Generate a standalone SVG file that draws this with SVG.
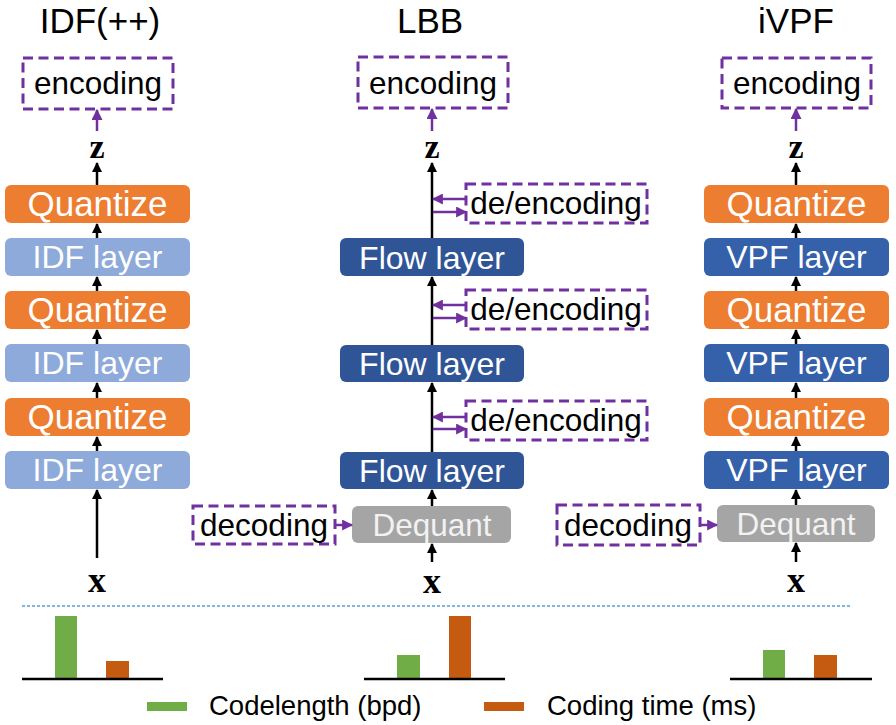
<svg xmlns="http://www.w3.org/2000/svg" width="896" height="725" viewBox="0 0 896 725">
<style>
.t{font-family:"Liberation Sans",Arial,sans-serif;text-anchor:middle}
.title{font-size:35px;fill:#000}
.q{fill:#ED7D31}.idf{fill:#8EAADB}.flow{fill:#2F5597}.vpf{fill:#3560AA}.deq{fill:#A5A5A5}
.bt{font-size:32px;fill:#fff}
.qt{font-size:35px;fill:#fff}
.dq{font-size:31.5px;fill:#F2F2F2}
.dash{fill:#fff;stroke:#7030A0;stroke-width:3;stroke-dasharray:10 5.5}
.dt{font-size:31.5px;fill:#000}
.var{font-family:"Liberation Serif","Times New Roman",serif;font-weight:bold;text-anchor:middle;fill:#000}
.ba{stroke:#000;stroke-width:2.5;fill:none;marker-end:url(#ah)}
.pa{stroke:#7030A0;stroke-width:2.5;fill:none;marker-end:url(#ph)}
.leg{font-family:"Liberation Sans",Arial,sans-serif;font-size:27.5px;fill:#000}
</style>
<defs>
<marker id="ah" markerUnits="userSpaceOnUse" markerWidth="10" markerHeight="10" viewBox="0 0 10 10" refX="9" refY="5" orient="auto">
<path d="M0,0 L10,5 L0,10 z" fill="#000"/>
</marker>
<marker id="ph" markerUnits="userSpaceOnUse" markerWidth="11" markerHeight="11" viewBox="0 0 10 10" refX="9" refY="5" orient="auto">
<path d="M0,0 L10,5 L0,10 z" fill="#7030A0"/>
</marker>
</defs>
<rect width="896" height="725" fill="#fff"/>

<!-- titles -->
<text class="t title" x="100" y="33">IDF(++)</text>
<text class="t title" x="430" y="33">LBB</text>
<text class="t title" x="796" y="33">iVPF</text>

<!-- IDF column -->
<g id="idf-encoding"><rect class="dash" x="23" y="58" width="150" height="51"/><text class="t dt" x="98" y="94">encoding</text></g>
<text class="var" x="97" y="158" font-size="34">z</text>
<g id="idf-q1"><rect class="q" x="5" y="185" width="185" height="38" rx="6"/><text class="t qt" x="97.5" y="216">Quantize</text></g>
<g id="idf-l1"><rect class="idf" x="5" y="238" width="185" height="38" rx="6"/><text class="t bt" x="97.5" y="268">IDF layer</text></g>
<g id="idf-q2"><rect class="q" x="5" y="291" width="185" height="38" rx="6"/><text class="t qt" x="97.5" y="322">Quantize</text></g>
<g id="idf-l2"><rect class="idf" x="5" y="344" width="185" height="38" rx="6"/><text class="t bt" x="97.5" y="374">IDF layer</text></g>
<g id="idf-q3"><rect class="q" x="5" y="398" width="185" height="38" rx="6"/><text class="t qt" x="97.5" y="429">Quantize</text></g>
<g id="idf-l3"><rect class="idf" x="5" y="451" width="185" height="38" rx="6"/><text class="t bt" x="97.5" y="481">IDF layer</text></g>
<text class="var" x="97" y="592" font-size="36">x</text>

<!-- LBB column -->
<g id="lbb-encoding"><rect class="dash" x="358" y="57" width="150" height="51"/><text class="t dt" x="433" y="94">encoding</text></g>
<text class="var" x="432" y="158" font-size="34">z</text>
<g id="lbb-de1"><rect class="dash" x="466" y="184" width="181" height="39"/><text class="t dt" x="556" y="214">de/encoding</text></g>
<g id="lbb-f1"><rect class="flow" x="340" y="238" width="184" height="38" rx="6"/><text class="t bt" x="432" y="269">Flow layer</text></g>
<g id="lbb-de2"><rect class="dash" x="466" y="290" width="181" height="39"/><text class="t dt" x="556" y="320">de/encoding</text></g>
<g id="lbb-f2"><rect class="flow" x="340" y="345" width="184" height="37" rx="6"/><text class="t bt" x="432" y="375">Flow layer</text></g>
<g id="lbb-de3"><rect class="dash" x="466" y="401" width="181" height="39"/><text class="t dt" x="556" y="431">de/encoding</text></g>
<g id="lbb-f3"><rect class="flow" x="340" y="452" width="184" height="37" rx="6"/><text class="t bt" x="432" y="482">Flow layer</text></g>
<g id="lbb-decoding"><rect class="dash" x="193" y="506" width="142" height="38"/><text class="t dt" x="264" y="536">decoding</text></g>
<g id="lbb-deq"><rect class="deq" x="352" y="506" width="159" height="37" rx="6"/><text class="t dq" x="432" y="536">Dequant</text></g>
<text class="var" x="432" y="593" font-size="36">x</text>

<!-- iVPF column -->
<g id="ivpf-encoding"><rect class="dash" x="722" y="58" width="149" height="50"/><text class="t dt" x="797" y="94">encoding</text></g>
<text class="var" x="796" y="158" font-size="34">z</text>
<g id="ivpf-q1"><rect class="q" x="704" y="185" width="185" height="38" rx="6"/><text class="t qt" x="796.5" y="216">Quantize</text></g>
<g id="ivpf-l1"><rect class="vpf" x="704" y="238" width="185" height="38" rx="6"/><text class="t bt" x="796.5" y="268">VPF layer</text></g>
<g id="ivpf-q2"><rect class="q" x="704" y="291" width="185" height="38" rx="6"/><text class="t qt" x="796.5" y="322">Quantize</text></g>
<g id="ivpf-l2"><rect class="vpf" x="704" y="344" width="185" height="38" rx="6"/><text class="t bt" x="796.5" y="374">VPF layer</text></g>
<g id="ivpf-q3"><rect class="q" x="704" y="398" width="185" height="38" rx="6"/><text class="t qt" x="796.5" y="429">Quantize</text></g>
<g id="ivpf-l3"><rect class="vpf" x="704" y="451" width="185" height="38" rx="6"/><text class="t bt" x="796.5" y="481">VPF layer</text></g>
<g id="ivpf-decoding"><rect class="dash" x="557" y="505" width="143" height="40"/><text class="t dt" x="628" y="536">decoding</text></g>
<g id="ivpf-deq"><rect class="deq" x="717" y="505" width="158" height="37" rx="6"/><text class="t dq" x="796" y="535">Dequant</text></g>
<text class="var" x="796" y="592" font-size="36">x</text>

<!-- connectors -->
<g id="connectors">
<line class="pa" x1="97" y1="131" x2="97" y2="110"/>
<line class="ba" x1="97" y1="185" x2="97" y2="163"/>
<line class="ba" x1="97" y1="238" x2="97" y2="224"/>
<line class="ba" x1="97" y1="291" x2="97" y2="277"/>
<line class="ba" x1="97" y1="344" x2="97" y2="330"/>
<line class="ba" x1="97" y1="398" x2="97" y2="383"/>
<line class="ba" x1="97" y1="451" x2="97" y2="437"/>
<line class="ba" x1="97" y1="558" x2="97" y2="490"/>

<line class="pa" x1="432" y1="131" x2="432" y2="109"/>
<line class="ba" x1="432" y1="238" x2="432" y2="163"/>
<line class="ba" x1="432" y1="345" x2="432" y2="277"/>
<line class="ba" x1="432" y1="452" x2="432" y2="383"/>
<line class="ba" x1="432" y1="506" x2="432" y2="490"/>
<line class="ba" x1="432" y1="562" x2="432" y2="544"/>
<line class="pa" x1="466" y1="199" x2="433" y2="199"/>
<line class="pa" x1="433" y1="212" x2="466" y2="212"/>
<line class="pa" x1="466" y1="305" x2="433" y2="305"/>
<line class="pa" x1="433" y1="318" x2="466" y2="318"/>
<line class="pa" x1="466" y1="417" x2="433" y2="417"/>
<line class="pa" x1="433" y1="429" x2="466" y2="429"/>
<line class="pa" x1="335" y1="525" x2="352" y2="525"/>

<line class="pa" x1="796" y1="131" x2="796" y2="109"/>
<line class="ba" x1="796" y1="185" x2="796" y2="163"/>
<line class="ba" x1="796" y1="238" x2="796" y2="224"/>
<line class="ba" x1="796" y1="291" x2="796" y2="277"/>
<line class="ba" x1="796" y1="344" x2="796" y2="330"/>
<line class="ba" x1="796" y1="398" x2="796" y2="383"/>
<line class="ba" x1="796" y1="451" x2="796" y2="437"/>
<line class="ba" x1="796" y1="505" x2="796" y2="490"/>
<line class="ba" x1="796" y1="562" x2="796" y2="543"/>
<line class="pa" x1="700" y1="525" x2="717" y2="525"/>
</g>

<!-- separator -->
<line x1="22" y1="606" x2="850" y2="606" stroke="#5B9BD5" stroke-width="1.5" stroke-dasharray="3 2"/>

<!-- bar charts -->
<g id="bars">
<rect x="55" y="616" width="22" height="63" fill="#70AD47"/>
<rect x="106" y="661" width="23" height="18" fill="#C55A11"/>
<line x1="22" y1="679" x2="163" y2="679" stroke="#000" stroke-width="2.5"/>
<rect x="397" y="655" width="23" height="24" fill="#70AD47"/>
<rect x="449" y="616" width="22" height="64" fill="#C55A11"/>
<line x1="364" y1="679" x2="505" y2="679" stroke="#000" stroke-width="2.5"/>
<rect x="763" y="650" width="22" height="29" fill="#70AD47"/>
<rect x="814" y="655" width="23" height="24" fill="#C55A11"/>
<line x1="730" y1="679" x2="872" y2="679" stroke="#000" stroke-width="2.5"/>
</g>

<!-- legend -->
<g id="legend">
<rect x="147" y="702" width="40" height="9" fill="#70AD47"/>
<text class="leg" x="209" y="715">Codelength (bpd)</text>
<rect x="484" y="702" width="40" height="9" fill="#C55A11"/>
<text class="leg" x="547" y="715">Coding time (ms)</text>
</g>
</svg>
